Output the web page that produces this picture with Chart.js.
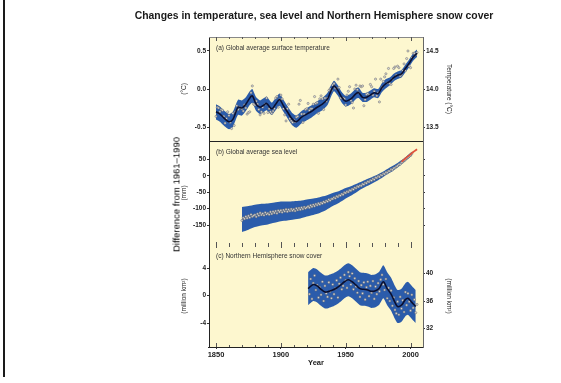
<!DOCTYPE html>
<html><head><meta charset="utf-8">
<script src="https://cdn.jsdelivr.net/npm/chart.js@4.4.1/dist/chart.umd.min.js"></script>
<style>
html,body{margin:0;padding:0;background:#fff;}
#wrap{position:relative;width:561px;height:383px;overflow:hidden;font-family:"Liberation Sans",Arial,sans-serif;}
canvas{position:absolute;left:0;top:0;}
.t{position:absolute;white-space:nowrap;color:#1a1a1a;line-height:1;}
.v{position:absolute;white-space:nowrap;color:#000;line-height:1;writing-mode:vertical-rl;transform:rotate(180deg);}
</style></head><body>
<div id="wrap">
<canvas id="c" width="561" height="383"></canvas>
<div style="position:absolute;left:3px;top:0;width:2px;height:377px;background:#1a1a1a"></div>
<div class="t" style="left:314px;top:11px;transform:translateX(-50%);font-size:10.4px;font-weight:bold;">Changes in temperature, sea level and Northern Hemisphere snow cover</div>
<div class="v" style="left:172px;top:137px;font-size:9.5px;">Difference from 1961–1990</div>
<div class="t" style="left:216px;top:45px;font-size:6.5px;color:#333;">(a) Global average surface temperature</div>
<div class="t" style="left:216px;top:149px;font-size:6.5px;color:#333;">(b) Global average sea level</div>
<div class="t" style="left:216px;top:253px;font-size:6.5px;color:#333;">(c) Northern Hemisphere snow cover</div>
</div>
<script>
// ---------- DATA ----------
const yearTicks = [1850, 1900, 1950, 2000];
const minorTickYears = [1850,1860,1870,1880,1890,1900,1910,1920,1930,1940,1950,1960,1970,1980,1990,2000];

// (a) temperature anomaly (°C, relative to 1961-1990)
const tempYears = [1850,1853,1856,1860,1863,1867,1870,1873,1876,1878,1881,1884,1887,1889,1893,1896,1899,1902,1905,1909,1912,1916,1920,1924,1928,1932,1936,1938,1941,1944,1947,1950,1954,1958,1960,1963,1966,1969,1972,1975,1978,1981,1984,1987,1990,1993,1996,1999,2002,2005];
const tempSmooth = [-0.30,-0.33,-0.38,-0.43,-0.40,-0.24,-0.25,-0.20,-0.12,-0.09,-0.20,-0.24,-0.21,-0.19,-0.26,-0.20,-0.14,-0.22,-0.30,-0.40,-0.43,-0.37,-0.33,-0.29,-0.24,-0.20,-0.13,-0.05,0.04,-0.02,-0.11,-0.16,-0.13,-0.06,-0.05,-0.11,-0.11,-0.08,-0.05,-0.06,0.02,0.07,0.10,0.15,0.18,0.20,0.27,0.34,0.42,0.47];
const tempUpper = [-0.20,-0.23,-0.28,-0.33,-0.30,-0.14,-0.15,-0.11,-0.03,0.00,-0.11,-0.15,-0.12,-0.10,-0.18,-0.12,-0.06,-0.14,-0.22,-0.32,-0.35,-0.29,-0.25,-0.21,-0.16,-0.12,-0.05,0.03,0.11,0.05,-0.04,-0.09,-0.06,0.01,0.02,-0.05,-0.05,-0.02,0.01,0.00,0.08,0.13,0.15,0.20,0.23,0.25,0.32,0.39,0.47,0.52];
const tempLower = [-0.40,-0.43,-0.48,-0.53,-0.50,-0.34,-0.35,-0.29,-0.21,-0.18,-0.29,-0.33,-0.30,-0.28,-0.34,-0.28,-0.22,-0.30,-0.38,-0.48,-0.51,-0.45,-0.41,-0.37,-0.32,-0.28,-0.21,-0.13,-0.03,-0.09,-0.18,-0.23,-0.20,-0.13,-0.12,-0.17,-0.17,-0.14,-0.11,-0.12,-0.04,0.01,0.05,0.10,0.13,0.15,0.22,0.29,0.37,0.42];
const tempAnnualStart = 1850;
const tempAnnual = [
 -0.36,-0.24,-0.25,-0.30,-0.27,-0.28,-0.36,-0.45,-0.39,-0.30,
 -0.35,-0.44,-0.52,-0.32,-0.48,-0.30,-0.22,-0.27,-0.24,-0.25,
 -0.26,-0.29,-0.21,-0.25,-0.33,-0.31,-0.30,-0.05,0.04,-0.20,
 -0.21,-0.16,-0.20,-0.27,-0.34,-0.30,-0.24,-0.32,-0.20,-0.12,
 -0.31,-0.26,-0.30,-0.32,-0.29,-0.26,-0.12,-0.10,-0.24,-0.14,
 -0.08,-0.13,-0.26,-0.34,-0.42,-0.26,-0.20,-0.39,-0.42,-0.44,
 -0.41,-0.43,-0.37,-0.36,-0.20,-0.15,-0.33,-0.44,-0.33,-0.27,
 -0.26,-0.19,-0.28,-0.26,-0.26,-0.20,-0.10,-0.19,-0.18,-0.32,
 -0.13,-0.09,-0.13,-0.27,-0.12,-0.16,-0.12,-0.02,0.00,-0.02,
 0.05,0.07,0.01,0.01,0.13,0.02,-0.12,-0.12,-0.12,-0.13,
 -0.21,-0.08,-0.03,0.03,-0.15,-0.18,-0.25,0.00,0.05,-0.01,
 -0.05,0.04,0.03,0.04,-0.22,-0.14,-0.07,-0.06,-0.08,0.06,
 0.03,-0.08,-0.03,0.13,-0.09,-0.05,-0.17,0.13,0.02,0.10,
 0.16,0.20,0.08,0.27,0.07,0.06,0.13,0.27,0.29,0.18,
 0.30,0.28,0.17,0.19,0.24,0.33,0.24,0.40,0.50,0.30,
 0.28,0.41,0.47,0.47,0.45,0.48];

// (b) sea level (mm, relative to 1961-1990)
const slYears = [1870,1875,1880,1885,1890,1895,1900,1905,1910,1915,1920,1925,1930,1935,1940,1945,1950,1955,1960,1965,1970,1975,1980,1985,1990,1995,2000,2001];
const slSmooth = [-133,-128,-122,-118,-116,-112,-108,-107,-105,-103,-98,-94,-89,-82,-72,-64,-53,-44,-33,-23,-14,-4,8,20,33,48,65,68];
const slUpper = [-95,-92,-88,-85,-84,-81,-78,-78,-77,-76,-72,-69,-65,-60,-52,-46,-37,-30,-21,-12,-4,5,16,28,40,54,71,74];
const slLower = [-171,-164,-156,-151,-148,-143,-138,-136,-133,-130,-124,-119,-113,-104,-92,-82,-69,-58,-45,-34,-24,-13,0,12,26,42,59,62];
const slAnnualStart = 1870;
const slAnnual = [
 -136,-128,-131,-124,-129,-122,-127,-118,-124,-121,
 -119,-125,-116,-121,-113,-119,-115,-120,-112,-117,
 -114,-118,-110,-116,-109,-113,-107,-114,-106,-110,
 -105,-111,-104,-108,-102,-109,-103,-107,-101,-106,
 -102,-107,-99,-104,-98,-103,-97,-101,-95,-99,
 -96,-93,-97,-90,-94,-88,-92,-86,-89,-84,
 -87,-82,-84,-79,-81,-76,-78,-72,-75,-70,
 -70,-66,-68,-62,-64,-59,-60,-55,-57,-51,
 -52,-48,-49,-44,-45,-40,-41,-36,-37,-32,
 -33,-29,-30,-25,-26,-21,-22,-17,-18,-13,
 -14,-9,-11,-5,-6,-1,-3,3,2,7,
 6,11,10,15,15,20,19,24,25,29,
 31,35,36,41,43,47,50,54,57,61,
 63,68];
const satYears = [1993,1995,1997,1999,2001,2003,2005];
const satValues = [44,50,57,63,70,76,82];

// (c) NH snow cover (million km², anomaly)
const snowYears = [1921,1925,1928,1931,1934,1937,1940,1943,1946,1949,1952,1955,1958,1961,1964,1967,1970,1973,1976,1979,1982,1985,1988,1990,1993,1996,1998,2001,2004];
const snowSmooth = [1.0,1.6,1.4,0.9,0.5,0.6,0.8,1.1,1.5,2.0,2.3,2.0,1.5,1.0,0.9,0.8,0.6,0.7,1.1,2.0,1.0,0.2,-1.0,-1.6,-1.4,-0.6,-0.4,-1.0,-1.6];
const snowUpper = [3.4,4.0,3.8,3.3,2.9,3.0,3.2,3.5,3.9,4.4,4.7,4.4,3.9,3.4,3.3,3.2,3.0,3.1,3.5,4.4,3.4,2.6,1.4,0.8,1.0,1.8,2.0,1.4,0.8];
const snowLower = [-1.4,-0.8,-1.0,-1.5,-1.9,-1.8,-1.6,-1.3,-0.9,-0.4,-0.1,-0.4,-0.9,-1.4,-1.5,-1.6,-1.8,-1.7,-1.3,-0.4,-1.4,-2.2,-3.4,-4.0,-3.8,-3.0,-2.8,-3.4,-4.0];
const snowAnnualStart = 1922;
const snowAnnual = [
 0.2,2.4,-0.5,1.8,2.9,0.8,1.5,-0.3,
 1.2,0.1,2.0,-0.8,1.4,0.3,-0.2,1.9,0.6,-0.4,
 1.6,0.2,1.0,2.2,-0.3,1.7,2.6,0.9,1.4,3.0,
 2.2,1.1,3.4,2.8,1.6,3.2,0.9,2.5,1.3,0.4,
 2.1,-0.2,1.5,0.3,1.9,-0.6,1.2,2.0,-0.1,1.4,
 0.4,2.1,-0.5,1.3,0.2,1.8,0.6,2.3,3.0,1.6,
 0.8,2.4,-0.4,1.1,-0.8,0.7,-1.5,-0.3,-2.1,-2.6,
 -0.9,-2.8,-0.2,-1.9,-0.7,-2.4,0.5,-1.4,0.3,-0.9,
 -2.2,0.1,-1.8,-0.6,-2.5,-1.3];

const tempTicks = [-0.5, 0, 0.5];
const tempAbsTicks = [13.5, 14.0, 14.5];
const slTicks = [-150, -100, -50, 0, 50];
const snowTicks = [-4, 0, 4];
const snowAbsTicks = [32, 36, 40];

// ---------- STYLE ----------
const FONT = '"Liberation Sans", Arial, sans-serif';
const BAND = '#2b5cab';
const LINE = '#0b1030';
const CREAM = '#fdf7cf';

const pts = (xs, ys) => xs.map((x, i) => ({x, y: ys[i]}));
const annual = (start, ys) => ys.map((y, i) => ({x: start + i, y}));

function band(xs, up, lo, axis) {
  return [
    {data: pts(xs, up), yAxisID: axis, borderWidth: 0, pointRadius: 0, fill: '+1', backgroundColor: BAND, borderColor: BAND, tension: 0.2, order: 3},
    {data: pts(xs, lo), yAxisID: axis, borderWidth: 0, pointRadius: 0, fill: false, borderColor: BAND, tension: 0.2, order: 3}
  ];
}
function dots(data, axis) {
  return {data, yAxisID: axis, showLine: false, pointRadius: 1.1, pointBorderWidth: 0.5,
    pointBackgroundColor: '#d6d6d6', pointBorderColor: '#666', order: 2};
}
function smooth(xs, ys, axis, color, w) {
  return {data: pts(xs, ys), yAxisID: axis, borderColor: color || LINE, borderWidth: w || 1.6, pointRadius: 0, fill: false, tension: 0.35, order: 1};
}

const ticksAt = vals => s => { s.ticks = vals.map(v => ({value: v})); };
const tickFont = {family: FONT, size: 6.5, weight: 'bold'};
const titleFont = {family: FONT, size: 6.5};

function yAxis(pos, weight, min, max, vals, fmt, title, width) {
  return {
    type: 'linear', position: pos, stack: pos, stackWeight: weight, min, max,
    afterBuildTicks: ticksAt(vals),
    afterFit: s => { s.width = width; },
    grid: {drawOnChartArea: false, drawTicks: true, tickLength: 2, color: '#333'},
    border: {display: true, color: pos === 'left' ? '#222' : '#666', width: 1},
    ticks: {font: tickFont, color: '#222', padding: 1, callback: fmt, autoSkip: false},
    title: {display: !!title, text: title || '', font: titleFont, color: '#222', padding: 0}
  };
}

const framePlugin = {
  id: 'frame',
  beforeDraw(chart) {
    const {ctx, chartArea: a} = chart;
    ctx.save(); ctx.fillStyle = CREAM; ctx.fillRect(a.left, a.top, a.right - a.left, a.bottom - a.top); ctx.restore();
  },
  afterDatasetsDraw(chart) {
    const {ctx, chartArea: a, scales} = chart;
    ctx.save();
    ctx.strokeStyle = '#888'; ctx.lineWidth = 1;
    ctx.beginPath(); ctx.moveTo(a.left, a.top + 0.5); ctx.lineTo(a.right, a.top + 0.5); ctx.stroke();
    const yab = Math.round(scales.ya.bottom) + 0.5;
    ctx.strokeStyle = '#222';
    ctx.beginPath(); ctx.moveTo(a.left, yab); ctx.lineTo(a.right, yab); ctx.stroke();
    const ybc = Math.round(scales.yb.bottom);
    ctx.strokeStyle = '#555';
    minorTickYears.forEach(yr => {
      const x = Math.round(scales.x.getPixelForValue(yr)) + 0.5;
      const big = yearTicks.includes(yr);
      ctx.beginPath(); ctx.moveTo(x, a.top); ctx.lineTo(x, a.top + (big ? 4 : 2)); ctx.stroke();
      ctx.beginPath(); ctx.moveTo(x, ybc - (big ? 3 : 2)); ctx.lineTo(x, ybc + (big ? 3 : 2)); ctx.stroke();
      ctx.beginPath(); ctx.moveTo(x, a.bottom); ctx.lineTo(x, a.bottom - (big ? 4 : 2)); ctx.stroke();
    });
    ctx.restore();
  }
};

new Chart(document.getElementById('c'), {
  type: 'line',
  data: {datasets: [
    ...band(tempYears, tempUpper, tempLower, 'ya'),
    dots(annual(tempAnnualStart, tempAnnual), 'ya'),
    smooth(tempYears, tempSmooth, 'ya'),
    ...band(slYears, slUpper, slLower, 'yb'),
    dots(annual(slAnnualStart, slAnnual), 'yb'),
    smooth(satYears, satValues, 'yb', '#e0523a', 1.8),
    ...band(snowYears, snowUpper, snowLower, 'yc'),
    dots(annual(snowAnnualStart, snowAnnual), 'yc'),
    smooth(snowYears, snowSmooth, 'yc')
  ]},
  options: {
    responsive: false, animation: false,
    layout: {padding: {left: 180, right: 108, top: 37, bottom: 16}},
    plugins: {legend: {display: false}, tooltip: {enabled: false}, title: {display: false}},
    scales: {
      x: {
        type: 'linear', position: 'bottom', min: 1844.6, max: 2009.6,
        afterBuildTicks: ticksAt(yearTicks),
        afterFit: s => { s.height = 20; },
        grid: {drawOnChartArea: false, tickLength: 2, color: '#333'},
        border: {display: true, color: '#222', width: 1},
        ticks: {font: {family: FONT, size: 7.5, weight: 'bold'}, color: '#222', padding: 1, maxRotation: 0, autoSkip: false, callback: v => String(v)},
        title: {display: true, text: 'Year', font: {family: FONT, size: 7.5, weight: 'bold'}, color: '#222', padding: 0}
      },
      yc: yAxis('left', 102, -7.49, 7.35, snowTicks, v => String(v), '(million km²)', 29),
      yb: yAxis('left', 104, -211, 107, slTicks, v => String(v), '(mm)', 29),
      ya: yAxis('left', 104, -0.684, 0.684, tempTicks, v => v.toFixed(1), '(°C)', 29),
      ra: yAxis('right', 104, 13.316, 14.684, tempAbsTicks, v => v.toFixed(1), 'Temperature (°C)', 30),
      rb: yAxis('right', 104, -211, 107, slTicks, v => '', '', 30),
      rc: yAxis('right', 102, 29.31, 44.15, snowAbsTicks, v => String(v), '(million km²)', 30)
    }
  },
  plugins: [framePlugin]
});
</script>
</body></html>
